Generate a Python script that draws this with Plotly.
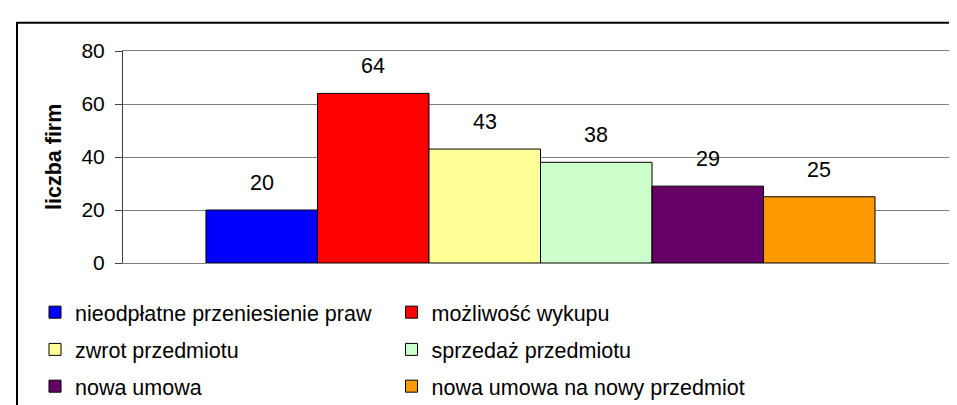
import plotly.graph_objects as go

# ---- data ----
categories = [
    "nieodpłatne przeniesienie praw",
    "możliwość wykupu",
    "zwrot przedmiotu",
    "sprzedaż przedmiotu",
    "nowa umowa",
    "nowa umowa na nowy przedmiot",
]
values = [20, 64, 43, 38, 29, 25]
colors = ["#0000FF", "#FF0000", "#FFFF99", "#CCFFCC", "#660066", "#FF9900"]
y_ticks = [0, 20, 40, 60, 80]
y_title = "liczba firm"

# ---- layout geometry (pixels) ----
W, H = 957, 405
PL, PR, PT, PB = 115, 950, 43, 265   # plot area edges


def pxx(p):
    return (p - PL) / (PR - PL)


def pxy(p):
    return (PB - p) / (PB - PT)


FONT = "Arial, Liberation Sans, sans-serif"

fig = go.Figure()
legend_cfg = {}
sym_centers = [47, 403.5]
row_centers = [316.5, 355.5, 394]
for i, (name, v, c) in enumerate(zip(categories, values, colors)):
    lkey = "legend" if i == 0 else f"legend{i + 1}"
    fig.add_trace(go.Bar(
        x=[i], y=[v], width=1, name=name,
        marker=dict(color=c, line=dict(color="black", width=1)),
        legend=lkey, hoverinfo="skip",
    ))
    fig.add_annotation(
        x=i, y=v, text=str(v), showarrow=False, yshift=27,
        xanchor="center", yanchor="middle",
        font=dict(family=FONT, size=21.5, color="black"),
    )
    col, row = i % 2, i // 2
    legend_cfg[lkey] = dict(
        x=pxx(sym_centers[col] - 20), y=pxy(row_centers[row]),
        xanchor="left", yanchor="middle", orientation="h",
        bgcolor="rgba(0,0,0,0)", borderwidth=0,
        font=dict(family=FONT, size=21.5, color="black"),
    )

# y-axis title
fig.add_annotation(
    x=pxx(46), y=0.5, xref="paper", yref="paper", text=f"<b>{y_title}</b>",
    textangle=-90, showarrow=False, xanchor="center", yanchor="middle",
    font=dict(family=FONT, size=21.5, color="black"),
)

# outer frame and right plot border
fig.add_shape(type="rect", xref="paper", yref="paper",
              x0=pxx(9), x1=pxx(990), y0=pxy(440), y1=pxy(13.5),
              line=dict(color="black", width=2), fillcolor="rgba(0,0,0,0)",
              layer="above")
fig.add_shape(type="line", xref="paper", yref="paper",
              x0=1, x1=1, y0=0, y1=1, line=dict(color="#808080", width=1))

fig.update_layout(
    width=W, height=H,
    margin=dict(l=PL, r=W - PR, t=PT, b=H - PB, pad=0),
    paper_bgcolor="white", plot_bgcolor="white",
    barmode="overlay", showlegend=True,
    font=dict(family=FONT, color="black"),
    xaxis=dict(range=[-1.244, 6.244], showticklabels=False, ticks="",
               showgrid=False, zeroline=False, showline=True,
               linecolor="#808080", linewidth=1, mirror=True, fixedrange=True),
    yaxis=dict(range=[0, 80], tickvals=y_ticks, ticks="outside", ticklen=7,
               tickcolor="#404040", showline=True, linecolor="#404040",
               linewidth=1, showgrid=True, gridcolor="#808080", gridwidth=1,
               zeroline=False, ticklabelstandoff=6,
               tickfont=dict(family=FONT, size=21, color="black"),
               fixedrange=True),
    **legend_cfg,
)

fig.write_html("out.html")
